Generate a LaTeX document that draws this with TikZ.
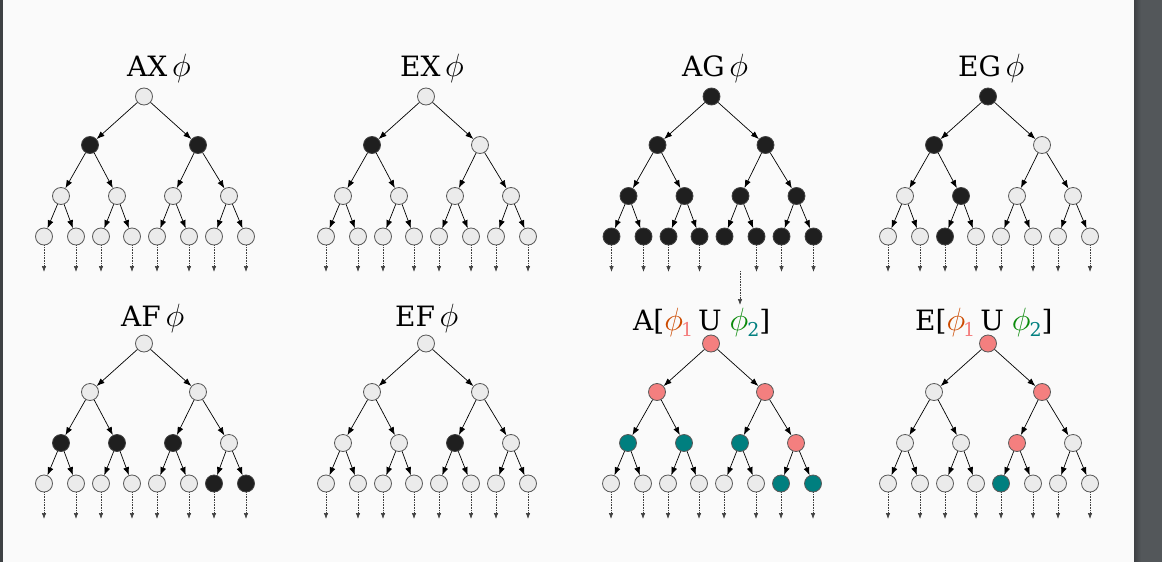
\documentclass[tikz,border=0pt]{standalone}
\usepackage{fix-cm}
\usepackage{fontspec}
\setmainfont{DejaVu Serif}
\usetikzlibrary{arrows.meta}

\definecolor{pagebg}{HTML}{FAFAFA}
\definecolor{sidebar}{HTML}{53575A}
\definecolor{sidebardark}{HTML}{3E4144}
\definecolor{nodegray}{HTML}{EBEBEB}
\definecolor{nodedark}{HTML}{1F1F1F}
\definecolor{nodepink}{HTML}{F47F7F}
\definecolor{nodeteal}{HTML}{007F7F}
\definecolor{phiorange}{HTML}{CC4A00}
\definecolor{phigreen}{HTML}{0A8A0A}

\tikzset{
  ctlnode/.style={circle, draw, minimum size=17pt, inner sep=0pt, line width=0.8pt},
  stw/.style={ctlnode, fill=nodegray, draw=black!65},
  stk/.style={ctlnode, fill=nodedark, draw=black!75},
  str/.style={ctlnode, fill=nodepink, draw=black!65},
  stt/.style={ctlnode, fill=nodeteal, draw=black!65},
  treeedge/.style={->, >={Latex[length=8pt,width=6pt]}, line width=0.7pt},
  dotedge/.style={->, >={Latex[length=6pt,width=4.5pt]}, densely dotted, line width=0.6pt, black!75},
  title/.style={anchor=base west, inner sep=0pt, font=\fontsize{28}{34}\selectfont}
}

% node offsets inside one tree (root first, then level by level)
\def\treex{{0,-54,54,-83,-27,29,85,-100,-68,-43,-12,13,45,70,102}}
\def\treey{{0,48.5,48.5,99.5,99.5,99.5,99.5,140,140,140,140,140,140,140,140}}

\newcommand{\fphi}{\scalebox{1.15}{$\phi$}}
\newcommand{\subone}{\kern-2pt\raisebox{-6pt}{\fontsize{19}{19}\selectfont\color{nodepink}1}}
\newcommand{\subtwo}{\kern-1pt\raisebox{-6pt}{\fontsize{19}{19}\selectfont\color{nodeteal}2}}

\begin{document}
\begin{tikzpicture}[x=1pt, y=-1pt]

\useasboundingbox (0,0) rectangle (1162,562);

% page and viewer frame
\fill[pagebg] (0,0) rectangle (1162,562);
\fill[sidebardark] (0,0) rectangle (2.5,562);
\fill[sidebar] (1134,0) rectangle (1162,562);
\shade[left color=sidebardark, right color=sidebar] (1134,0) rectangle (1141,562);

% the eight trees
\foreach \tree/\rx/\ry/\noleaf/\fills in {
  ax/144/96.5/-1/{stw,stk,stk,stw,stw,stw,stw,stw,stw,stw,stw,stw,stw,stw,stw},
  ex/426/96.5/-1/{stw,stk,stw,stw,stw,stw,stw,stw,stw,stw,stw,stw,stw,stw,stw},
  ag/711.5/96.5/11/{stk,stk,stk,stk,stk,stk,stk,stk,stk,stk,stk,stk,stk,stk,stk},
  eg/988/96.5/-1/{stk,stk,stw,stw,stk,stw,stw,stw,stw,stk,stw,stw,stw,stw,stw},
  af/144/343.5/-1/{stw,stw,stw,stk,stk,stk,stw,stw,stw,stw,stw,stw,stw,stk,stk},
  ef/426/343.5/-1/{stw,stw,stw,stw,stw,stk,stw,stw,stw,stw,stw,stw,stw,stw,stw},
  au/711/343.5/-1/{str,str,str,stt,stt,stt,str,stw,stw,stw,stw,stw,stw,stt,stt},
  eu/988/343.5/-1/{str,stw,str,stw,stw,str,stw,stw,stw,stw,stw,stt,stw,stw,stw}}
{
  \foreach \f [count=\i from 0] in \fills {
    \pgfmathsetmacro\nx{\rx+\treex[\i]}
    \pgfmathsetmacro\ny{\ry+\treey[\i]}
    \node[\f] (\tree-\i) at (\nx,\ny) {};
  }
  \foreach \p in {0,...,6} {
    \pgfmathtruncatemacro\ca{2*\p+1}
    \pgfmathtruncatemacro\cb{2*\p+2}
    \draw[treeedge] (\tree-\p) -- (\tree-\ca);
    \draw[treeedge] (\tree-\p) -- (\tree-\cb);
  }
  % paths going on below the leaves
  \foreach \l in {7,...,14} {
    \ifnum\l=\noleaf\relax\else
      \path (\tree-\l) ++(0,35.5) coordinate (\tree-\l-out);
      \draw[dotedge] (\tree-\l) -- (\tree-\l-out);
    \fi
  }
}

% the one dotted arrow that sits apart
\coordinate (ag-stray-in) at (740,271);
\coordinate (ag-stray-out) at (740,305);
\draw[dotedge] (ag-stray-in) -- (ag-stray-out);

% titles
\node[title] (ax-title) at (127,76) {AX\,\fphi};
\node[title] (ex-title) at (400,76) {EX\,\fphi};
\node[title] (ag-title) at (682,76) {AG\,\fphi};
\node[title] (eg-title) at (958,76) {EG\,\fphi};
\node[title] (af-title) at (121,326) {AF\,\fphi};
\node[title] (ef-title) at (395,326) {EF\,\fphi};
\node[title] (au-title) at (633,330) {A[{\color{phiorange}\fphi}\subone\hspace{5pt}U\hspace{8pt}{\color{phigreen}\fphi}\subtwo]};
\node[title] (eu-title) at (915,330) {E[{\color{phiorange}\fphi}\subone\hspace{5pt}U\hspace{8pt}{\color{phigreen}\fphi}\subtwo]};

\end{tikzpicture}
\end{document}
